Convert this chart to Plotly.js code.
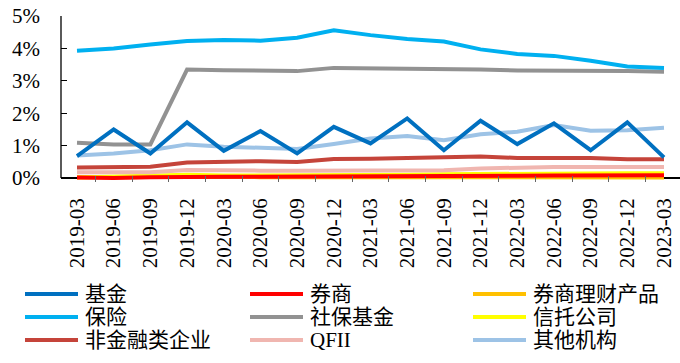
<!DOCTYPE html>
<html><head><meta charset="utf-8">
<script src="https://cdn.plot.ly/plotly-3.0.1.min.js"></script>
<style>html,body{margin:0;padding:0;background:#fff}#c{width:680px;height:363px}</style>
</head><body><div id="c"></div>
<script>
var dates = ['2019-03','2019-06','2019-09','2019-12','2020-03','2020-06','2020-09','2020-12','2021-03','2021-06','2021-09','2021-12','2022-03','2022-06','2022-09','2022-12','2023-03'];

var fund      = [0.68,1.50,0.76,1.72,0.84,1.45,0.76,1.58,1.07,1.84,0.86,1.77,1.05,1.69,0.86,1.72,0.64];
var broker    = [0.02,0.00,0.03,0.05,0.04,0.04,0.04,0.04,0.04,0.05,0.05,0.06,0.07,0.08,0.09,0.09,0.09];
var brokerWM  = [0.03,0.04,0.05,0.06,0.04,0.03,0.03,0.03,0.03,0.03,0.03,0.03,0.02,0.02,0.02,0.02,0.02];
var insurance = [3.93,4.00,4.12,4.23,4.26,4.24,4.33,4.56,4.41,4.29,4.21,3.97,3.83,3.77,3.62,3.44,3.40];
var ssf       = [1.09,1.04,1.04,3.35,3.33,3.33,3.30,3.40,3.39,3.39,3.35,3.35,3.32,3.32,3.31,3.30,3.28];
var trust     = [0.02,0.05,0.08,0.10,0.08,0.08,0.08,0.08,0.08,0.10,0.12,0.13,0.15,0.15,0.15,0.15,0.15];
var nonfin    = [0.33,0.33,0.35,0.48,0.50,0.52,0.50,0.59,0.60,0.62,0.64,0.67,0.62,0.62,0.62,0.58,0.58];
var qfii      = [0.18,0.18,0.18,0.25,0.23,0.23,0.23,0.23,0.24,0.24,0.24,0.30,0.33,0.34,0.34,0.34,0.34];
var other     = [0.70,0.76,0.86,1.04,0.97,0.94,0.90,1.05,1.22,1.30,1.17,1.35,1.43,1.64,1.46,1.48,1.55];

var names  = ['基金','券商','券商理财产品','保险','社保基金','信托公司','非金融类企业','QFII','其他机构'];
var values = [fund, broker, brokerWM, insurance, ssf, trust, nonfin, qfii, other];
var colors = ['#0070C0','#FF0000','#FFC000','#00B0F0','#929292','#FFFF00','#C5443A','#F0B6B0','#9DC3E6'];
var yTicks = [0,1,2,3,4,5];
var yTickText = ['0%','1%','2%','3%','4%','5%'];

var drawOrder = [2,5,1,7,6,8,4,0,3];

var traces = drawOrder.map(function(i){
  return {x: dates, y: values[i], name: names[i], type:'scatter', mode:'lines',
    line:{color: colors[i], width:4}, showlegend:false, hoverinfo:'skip'};
});

var W=680, H=363, ml=61, mr=0, mt=16, mb=181;
var pw=W-ml-mr, ph=H-mt-mb;
var yMin=-0.12, yMax=5;
function px2x(p){return (p-ml)/pw;}
function py2y(p){return (H-mb-p)/ph;}
var colX=[25,250,473], rowY=[294,317,340], sampleLen=53, textGap=58;
var SERIF='Liberation Serif';
var shapes=[], annotations=[];
// y-axis line from 0 to top
shapes.push({type:'line', xref:'paper', yref:'y', x0:0, x1:0, y0:0, y1:yMax, layer:'below',
  line:{color:'#000', width:1.3}});
names.forEach(function(n,k){
  var c=k%3, r=Math.floor(k/3);
  shapes.push({type:'line', xref:'paper', yref:'paper',
    x0:px2x(colX[c]), x1:px2x(colX[c]+sampleLen), y0:py2y(rowY[r]), y1:py2y(rowY[r]),
    line:{color:colors[k], width:4}});
  annotations.push({xref:'paper', yref:'paper', x:px2x(colX[c]+textGap), y:py2y(rowY[r]),
    xanchor:'left', yanchor:'middle', showarrow:false, text:n,
    font:{family:'Liberation Serif, Noto Sans CJK SC', size:21, color:'#000'}});
});

var layout = {
  width:W, height:H, margin:{l:ml, r:mr, t:mt, b:mb},
  paper_bgcolor:'#fff', plot_bgcolor:'#fff', showlegend:false,
  font:{family:SERIF, size:21, color:'#000'},
  xaxis:{type:'category', range:[-0.436,16.436], tickangle:-90, showgrid:false, zeroline:false,
    showline:false, ticks:'inside', ticklen:6, tickcolor:'#666',
    tickson:'boundaries', ticklabelstandoff:11,
    tickfont:{family:SERIF, size:21, color:'#000'}},
  yaxis:{range:[yMin,yMax], tickmode:'array', tickvals:yTicks, ticktext:yTickText, showgrid:false,
    zeroline:true, zerolinecolor:'#000', zerolinewidth:1.3,
    showline:false, ticks:'inside', ticklen:6, tickcolor:'#000',
    ticklabelstandoff:20,
    tickfont:{family:SERIF, size:21, color:'#000'}},
  shapes:shapes, annotations:annotations
};
Plotly.newPlot('c', traces, layout, {staticPlot:true, displayModeBar:false});
</script></body></html>
